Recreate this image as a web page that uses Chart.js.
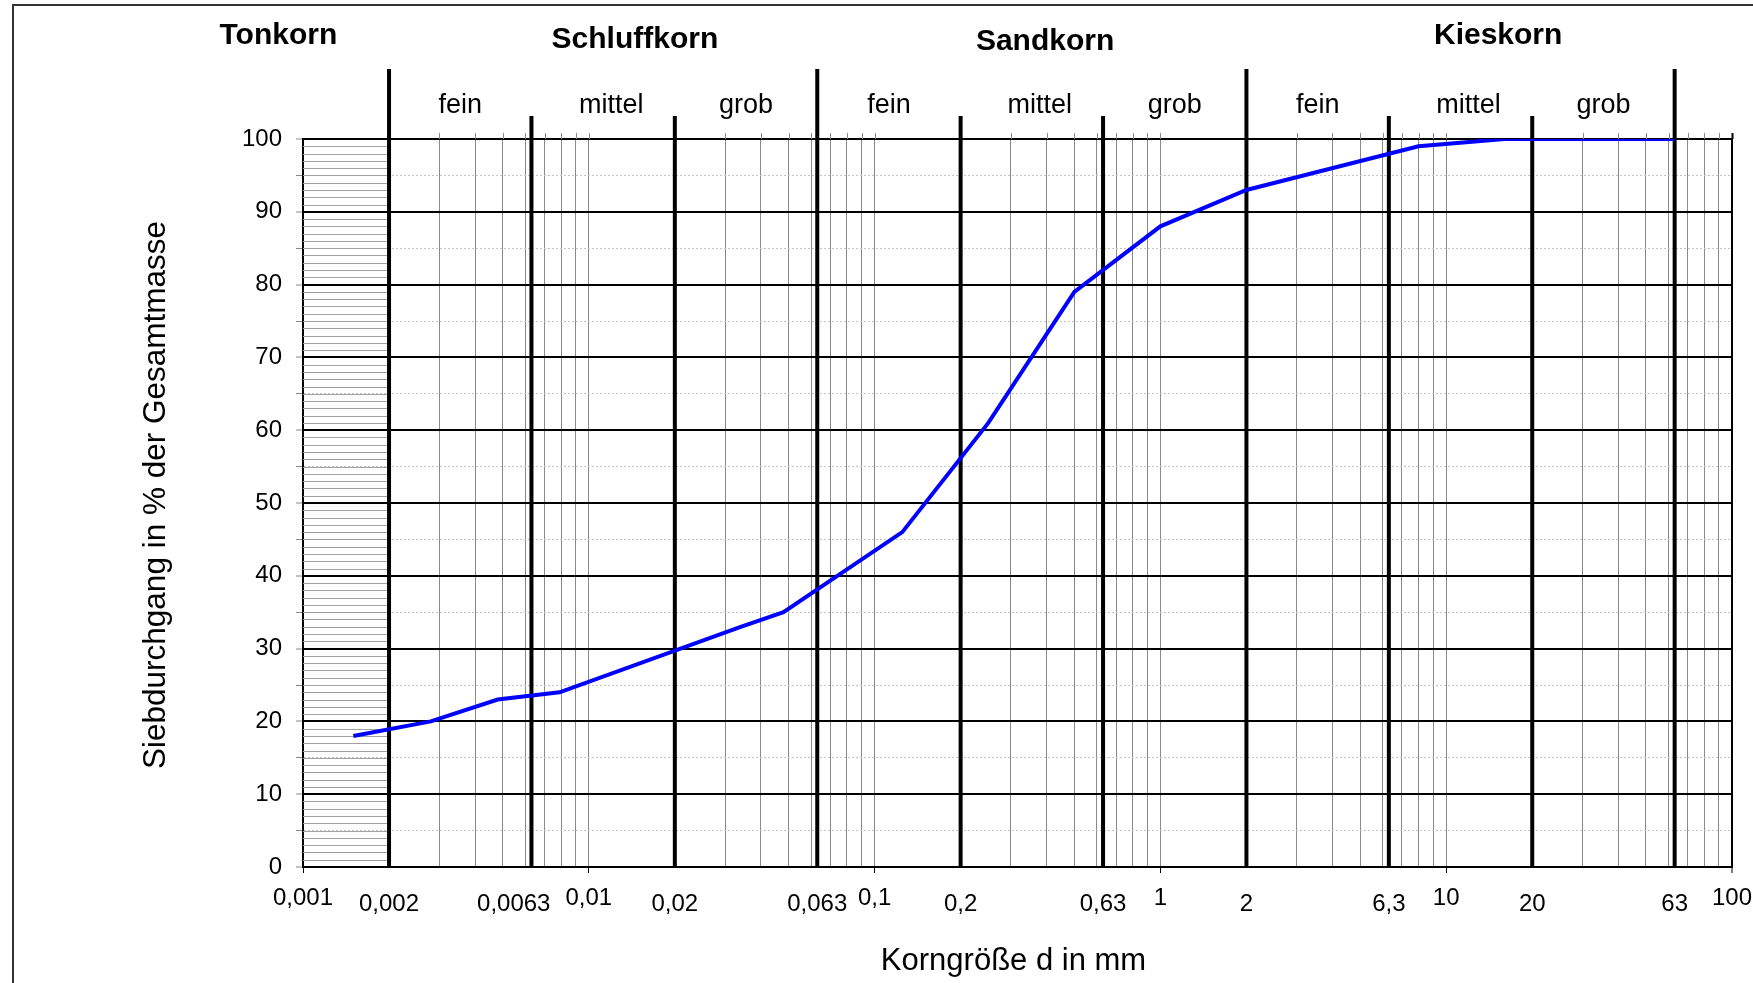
<!DOCTYPE html>
<html>
<head>
<meta charset="utf-8">
<script src="https://cdn.jsdelivr.net/npm/chart.js@4.4.1/dist/chart.umd.min.js"></script>
<style>
  html, body { margin: 0; padding: 0; background: #fff; }
  canvas { display: block; }
</style>
</head>
<body>
<canvas id="chart" width="1753" height="983"></canvas>
<script>
// Siebkurve: Korngröße in mm und Siebdurchgang in %
const grainSizes = [0.0015, 0.0028, 0.0048, 0.0079, 0.034, 0.048, 0.125, 0.25, 0.5, 1, 2, 8, 16, 63];
const passing = [18, 20, 23, 24, 33, 35, 46, 61, 79, 88, 93, 99, 100, 100];

const xTickValues = [0.001, 0.002, 0.0063, 0.01, 0.02, 0.063, 0.1, 0.2, 0.63, 1, 2, 6.3, 10, 20, 63, 100];
const xTickLabels = ["0,001", "0,002", "0,0063", "0,01", "0,02", "0,063", "0,1", "0,2", "0,63", "1", "2", "6,3", "10", "20", "63", "100"];

const groupNames = ["Tonkorn", "Schluffkorn", "Sandkorn", "Kieskorn"];
const groupBounds = [0.002, 0.063, 2, 63];
const subBounds = [0.002, 0.0063, 0.02, 0.063, 0.2, 0.63, 2, 6.3, 20, 63];
const subNames = ["fein", "mittel", "grob"];

const FONT = '"Liberation Sans", Arial, sans-serif';
const isDecade = v => Math.abs(Math.log10(v) - Math.round(Math.log10(v))) < 1e-9;

// log grid: 1..9 per decade
const gridValues = [];
for (let e = -3; e <= 1; e++) {
  for (let m = 1; m <= 9; m++) gridValues.push(+(m * Math.pow(10, e)).toPrecision(6));
}
gridValues.push(100);

const sieveDecor = {
  id: 'sieveDecor',
  beforeDatasetsDraw(chart) {
    const { ctx, chartArea: a, scales: { x, y } } = chart;
    ctx.save();
    // Tonkorn hatching
    ctx.strokeStyle = '#a0a0a0';
    ctx.lineWidth = 1;
    const x0 = x.getPixelForValue(0.001), x1 = x.getPixelForValue(0.002);
    for (let v = 1; v < 100; v++) {
      if (v % 10 === 0) continue;
      const py = Math.round(y.getPixelForValue(v)) + 0.5;
      ctx.beginPath(); ctx.moveTo(x0, py); ctx.lineTo(x1, py); ctx.stroke();
    }
    // grid lines stick out a little above the top
    gridValues.forEach(v => {
      if (subBounds.includes(v) || v === 0.001) return;
      const px = Math.round(x.getPixelForValue(v)) + 0.5;
      ctx.strokeStyle = v === 100 ? '#000' : '#8a8a8a';
      ctx.lineWidth = v === 100 ? 2 : 1;
      ctx.beginPath(); ctx.moveTo(px, a.top - 6); ctx.lineTo(px, a.top); ctx.stroke();
    });
    // bold class boundaries
    ctx.strokeStyle = '#000';
    ctx.lineWidth = 4;
    subBounds.forEach(b => {
      const px = x.getPixelForValue(b);
      const top = groupBounds.includes(b) ? a.top - 70 : a.top - 23;
      ctx.beginPath(); ctx.moveTo(px, top); ctx.lineTo(px, a.bottom); ctx.stroke();
    });
    ctx.restore();
  },
  afterDraw(chart) {
    const { ctx, chartArea: a, scales: { x } } = chart;
    ctx.save();
    ctx.fillStyle = '#000';
    ctx.textAlign = 'center';
    ctx.textBaseline = 'middle';

    // frame
    ctx.strokeStyle = '#333';
    ctx.lineWidth = 2;
    ctx.strokeRect(13, 5, 1800, 1100);

    // class names
    ctx.font = 'bold 30px ' + FONT;
    const groupAt = [0.00082, 0.0145, 0.395, 15.2];
    const groupDy = [-103, -99.5, -97.5, -103];
    groupNames.forEach((n, i) => ctx.fillText(n, x.getPixelForValue(groupAt[i]), a.top + groupDy[i]));

    ctx.font = '27px ' + FONT;
    for (let i = 0; i < subBounds.length - 1; i++) {
      const mid = Math.sqrt(subBounds[i] * subBounds[i + 1]);
      const shift = i % 3 === 1 ? 8 : 0;
      ctx.fillText(subNames[i % 3], x.getPixelForValue(mid) + shift, a.top - 33);
    }

    // x tick labels
    ctx.font = '24px ' + FONT;
    const centers = xTickValues.map(v => x.getPixelForValue(v));
    const widths = xTickLabels.map(t => ctx.measureText(t).width);
    for (let i = 0; i < xTickLabels.length; i++) {
      let cx = centers[i];
      if (i < xTickLabels.length - 1) {
        const nextLeft = centers[i + 1] - widths[i + 1] / 2;
        if (cx + widths[i] / 2 > nextLeft) cx = nextLeft - 15 - widths[i] / 2;
      }
      const dy = isDecade(xTickValues[i]) ? 31 : 37;
      ctx.fillText(xTickLabels[i], cx, a.bottom + dy);
    }

    // axis titles
    ctx.font = '31px ' + FONT;
    ctx.fillText('Korngröße d in mm', (a.left + a.right) / 2 - 4, a.bottom + 94);
    ctx.font = '31.5px ' + FONT;
    ctx.translate(a.left - 147, (a.top + a.bottom) / 2 - 8);
    ctx.rotate(-Math.PI / 2);
    ctx.fillText('Siebdurchgang in % der Gesamtmasse', 0, 0);
    ctx.restore();
  }
};

new Chart(document.getElementById('chart'), {
  type: 'line',
  data: {
    datasets: [{
      data: grainSizes.map((d, i) => ({ x: d, y: passing[i] })),
      borderColor: '#0000ff',
      borderWidth: 4,
      pointRadius: 0,
      tension: 0,
      fill: false
    }]
  },
  options: {
    responsive: false,
    animation: false,
    layout: { padding: { top: 139, right: 21, left: 0, bottom: 0 } },
    plugins: { legend: { display: false }, tooltip: { enabled: false } },
    scales: {
      x: {
        type: 'logarithmic',
        min: 0.001,
        max: 100,
        afterBuildTicks: s => { s.ticks = gridValues.map(v => ({ value: v })); },
        afterFit: s => { s.height = 116; },
        ticks: { display: false },
        grid: {
          color: c => (c.tick && c.tick.value === 100 ? '#000' : '#8a8a8a'),
          lineWidth: c => (c.tick && c.tick.value === 100 ? 2 : 1),
          tickLength: 6,
          tickWidth: 1,
          tickColor: c => (c.tick && isDecade(c.tick.value) ? '#000' : 'rgba(0,0,0,0)')
        },
        border: { color: '#000', width: 2 }
      },
      y: {
        min: 0,
        max: 100,
        afterBuildTicks: s => {
          const t = [];
          for (let v = 0; v <= 100; v += 5) t.push({ value: v });
          s.ticks = t;
        },
        afterFit: s => { s.width = 303; },
        ticks: {
          autoSkip: false,
          callback: v => (v % 10 === 0 ? v : ''),
          font: { family: FONT, size: 24 },
          color: '#000',
          padding: 14
        },
        grid: {
          color: c => (c.tick && c.tick.value % 10 === 0 ? '#000' : '#c4c4c4'),
          lineWidth: c => (c.tick && c.tick.value % 10 === 0 ? 2 : 1),
          tickLength: 7,
          tickWidth: 1,
          tickColor: '#888'
        },
        border: {
          color: '#000',
          width: 2,
          dash: c => (c.tick && c.tick.value % 10 !== 0 ? [2, 2] : [])
        }
      }
    }
  },
  plugins: [sieveDecor]
});
</script>
</body>
</html>
